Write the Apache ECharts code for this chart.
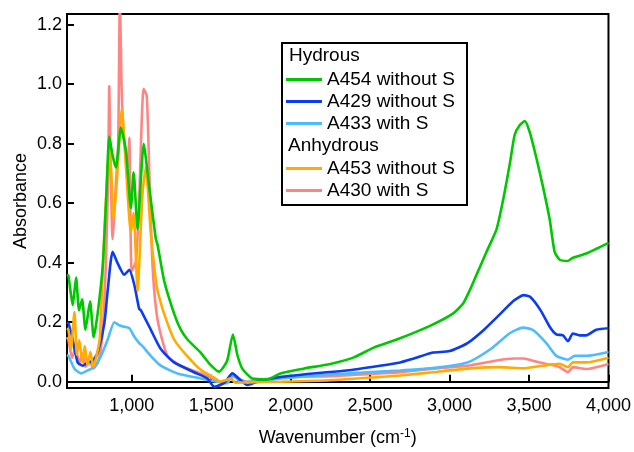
<!DOCTYPE html>
<html>
<head>
<meta charset="utf-8">
<script src="https://cdn.jsdelivr.net/npm/echarts@6/dist/echarts.min.js"></script>
<style>html,body{margin:0;padding:0;background:#fff}#c{width:634px;height:452px}</style>
</head>
<body>
<div id="c"></div>
<script>
var xTicks = [1000, 1500, 2000, 2500, 3000, 3500, 4000];
var yTicks = [0, 0.2, 0.4, 0.6, 0.8, 1.0, 1.2];

var seriesNames = ['A454 without S', 'A429 without S', 'A433 with S', 'A453 without S', 'A430 with S'];

var a454 = [[593,0.36],[602,0.356],[629,0.257],[650,0.35],[669,0.24],[688,0.277],[709,0.175],[738,0.27],[761,0.15],[786,0.23],[818,0.39],[840,0.62],[859,0.824],[880,0.76],[901,0.72],[932,0.854],[964,0.775],[995,0.584],[1012,0.704],[1037,0.513],[1060,0.70],[1075,0.80],[1110,0.655],[1152,0.48],[1163,0.46],[1204,0.34],[1267,0.229],[1309,0.175],[1351,0.142],[1434,0.098],[1490,0.06],[1549,0.034],[1600,0.07],[1637,0.159],[1665,0.09],[1696,0.044],[1759,0.011],[1853,0.008],[1936,0.028],[2080,0.044],[2250,0.06],[2394,0.081],[2520,0.114],[2668,0.142],[2877,0.188],[3021,0.229],[3084,0.262],[3125,0.305],[3170,0.36],[3233,0.437],[3296,0.513],[3337,0.611],[3379,0.732],[3410,0.83],[3442,0.863],[3473,0.876],[3504,0.84],[3546,0.753],[3588,0.655],[3630,0.546],[3661,0.437],[3693,0.41],[3745,0.406],[3776,0.417],[3860,0.431],[4000,0.467]];

var a429 = [[593,0.2],[602,0.196],[629,0.142],[660,0.065],[692,0.054],[723,0.065],[755,0.07],[786,0.098],[828,0.196],[849,0.306],[880,0.437],[912,0.398],[953,0.36],[985,0.376],[1016,0.327],[1047,0.245],[1058,0.24],[1120,0.175],[1183,0.11],[1267,0.065],[1392,0.032],[1476,0.011],[1520,-0.017],[1560,-0.01],[1590,0.0],[1633,0.028],[1685,0.005],[1727,-0.011],[1790,0.0],[1936,0.016],[2143,0.028],[2353,0.038],[2562,0.054],[2689,0.065],[2770,0.077],[2896,0.098],[3000,0.103],[3113,0.13],[3217,0.175],[3321,0.229],[3405,0.273],[3467,0.291],[3510,0.284],[3573,0.24],[3630,0.185],[3672,0.159],[3714,0.156],[3745,0.136],[3776,0.162],[3818,0.156],[3860,0.156],[3923,0.175],[4000,0.18]];

var a433 = [[593,0.09],[602,0.087],[640,0.044],[682,0.028],[723,0.038],[765,0.049],[807,0.087],[849,0.142],[891,0.2],[922,0.19],[953,0.185],[985,0.18],[1016,0.152],[1047,0.13],[1068,0.12],[1120,0.087],[1183,0.054],[1288,0.028],[1434,0.011],[1538,0.0],[1601,-0.005],[1633,0.024],[1685,0.0],[1811,0.0],[1936,0.011],[2250,0.024],[2562,0.034],[2689,0.038],[2877,0.045],[3113,0.065],[3259,0.11],[3379,0.163],[3463,0.182],[3525,0.174],[3609,0.13],[3672,0.087],[3745,0.074],[3787,0.087],[3860,0.087],[4000,0.1]];

var a453 = [[593,0.18],[602,0.175],[618,0.11],[640,0.234],[655,0.09],[670,0.14],[690,0.065],[705,0.12],[722,0.055],[740,0.10],[760,0.05],[780,0.09],[800,0.15],[828,0.5],[859,0.78],[870,0.72],[886,0.546],[907,0.677],[938,0.917],[964,0.72],[995,0.5],[1012,0.568],[1037,0.306],[1068,0.633],[1089,0.72],[1120,0.5],[1152,0.34],[1163,0.306],[1204,0.229],[1267,0.142],[1351,0.085],[1434,0.04],[1530,0.01],[1555,0.0],[1590,0.005],[1625,0.012],[1650,-0.003],[1727,-0.002],[1936,0.0],[2250,0.005],[2562,0.016],[2689,0.021],[2896,0.032],[3113,0.044],[3321,0.049],[3467,0.045],[3588,0.054],[3693,0.06],[3745,0.049],[3776,0.065],[3860,0.065],[4000,0.081]];

var a430 = [[593,0.15],[602,0.14],[625,0.08],[648,0.12],[668,0.06],[690,0.095],[710,0.05],[735,0.065],[760,0.045],[790,0.07],[815,0.15],[838,0.4],[852,0.7],[859,0.994],[866,0.775],[880,0.48],[901,0.667],[915,0.8],[926,1.3],[936,1.0],[950,0.83],[974,0.72],[985,0.82],[1000,0.372],[1027,0.405],[1047,0.611],[1075,0.985],[1095,0.96],[1110,0.72],[1131,0.393],[1163,0.208],[1225,0.087],[1309,0.054],[1434,0.028],[1538,0.005],[1580,-0.005],[1633,0.018],[1727,0.0],[1936,0.016],[2250,0.019],[2562,0.028],[2689,0.032],[2896,0.044],[3113,0.054],[3280,0.07],[3405,0.078],[3467,0.078],[3530,0.07],[3609,0.06],[3693,0.049],[3745,0.032],[3776,0.049],[3860,0.043],[4000,0.06]];

var colors = ['#00c800', '#0a3cf5', '#4cbcff', '#ffab00', '#ff8585'];
var FONT = 'Liberation Sans';

function mk(name, data, color) {
  return {
    name: name, type: 'line', data: data, symbol: 'none', smooth: 0.2,
    lineStyle: { color: color, width: 2.6 }, itemStyle: { color: color },
    clip: true, animation: false
  };
}

var legendBase = {
  orient: 'vertical', left: 286, padding: 0, icon: 'rect', itemWidth: 36, itemHeight: 3, itemGap: 3,
  textStyle: { fontFamily: FONT, fontSize: 19, color: '#000' }, selectedMode: false
};

var chart = echarts.init(document.getElementById('c'));
chart.setOption({
  animation: false,
  grid: { left: 67, right: 25, top: 14, bottom: 59, show: true, borderColor: '#000', borderWidth: 2, backgroundColor: 'transparent' },
  xAxis: {
    type: 'value', min: 593, max: 4000,
    name: '{a|Wavenumber (cm}{b|-1}{a|)}', nameLocation: 'middle', nameGap: 40, nameMoveOverlap: false,
    nameTextStyle: { rich: { a: { fontFamily: FONT, fontSize: 18, color: '#000' }, b: { fontFamily: FONT, fontSize: 12, color: '#000', verticalAlign: 'top', padding: [0,0,8,0] } } },
    axisLine: { show: true, lineStyle: { color: '#000', width: 2 } },
    axisTick: { show: true, inside: true, length: 7, customValues: xTicks, lineStyle: { color: '#000', width: 2 } },
    axisLabel: { customValues: xTicks, fontFamily: FONT, fontSize: 18, color: '#000', margin: 9,
      formatter: function (v) { return v.toLocaleString('en-US'); } },
    splitLine: { show: false }
  },
  yAxis: {
    type: 'value', min: -0.021, max: 1.236,
    name: 'Absorbance', nameLocation: 'middle', nameGap: 37, nameRotate: 90, nameMoveOverlap: false,
    nameTextStyle: { fontFamily: FONT, fontSize: 18, color: '#000' },
    axisLine: { show: true, lineStyle: { color: '#000', width: 2 } },
    axisTick: { show: true, inside: true, length: 7, customValues: yTicks, lineStyle: { color: '#000', width: 2 } },
    axisLabel: { customValues: yTicks, fontFamily: FONT, fontSize: 18, color: '#000', margin: 5,
      formatter: function (v) { return v.toFixed(1); } },
    splitLine: { show: false }
  },
  legend: [
    Object.assign({}, legendBase, { data: seriesNames.slice(0, 3), top: 70 }),
    Object.assign({}, legendBase, { data: seriesNames.slice(3), top: 159 })
  ],
  graphic: [
    { type: 'rect', left: 281, top: 42, shape: { width: 185, height: 162 }, style: { fill: '#fff', stroke: '#000', lineWidth: 2 }, z: 0 },
    { type: 'text', left: 289, top: 46, style: { text: 'Hydrous', font: '19px "Liberation Sans"', fill: '#000' }, z: 1 },
    { type: 'text', left: 288, top: 136, style: { text: 'Anhydrous', font: '19px "Liberation Sans"', fill: '#000' }, z: 1 }
  ],
  series: [
    mk(seriesNames[4], a430, colors[4]),
    mk(seriesNames[2], a433, colors[2]),
    mk(seriesNames[1], a429, colors[1]),
    mk(seriesNames[3], a453, colors[3]),
    mk(seriesNames[0], a454, colors[0])
  ]
});
</script>
</body>
</html>
